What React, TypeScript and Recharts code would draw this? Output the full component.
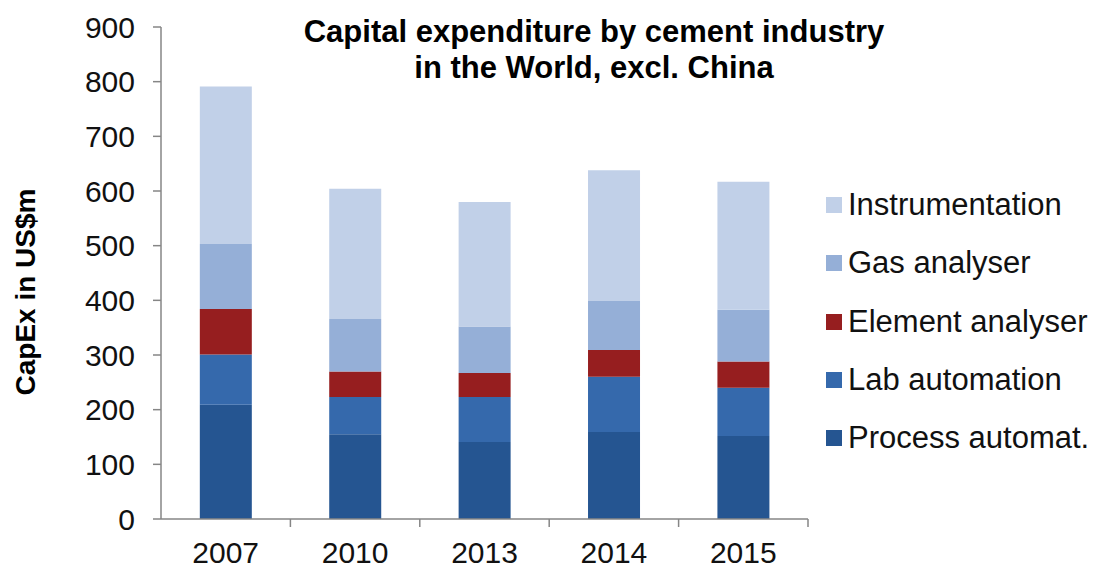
import { BarChart, Bar, XAxis, YAxis, Label } from "recharts"

const years = ["2007", "2010", "2013", "2014", "2015"]
const processAutomat = [209, 155, 141, 159, 152]
const labAutomation = [92, 68, 82, 101, 88]
const elementAnalyser = [83, 47, 44, 49, 48]
const gasAnalyser = [119, 96, 85, 90, 95]
const instrumentation = [288, 238, 228, 239, 234]
const yTicks = [0, 100, 200, 300, 400, 500, 600, 700, 800, 900]

const series = [
  { key: "process", name: "Process automat.", color: "#255591", values: processAutomat },
  { key: "lab", name: "Lab automation", color: "#3569AC", values: labAutomation },
  { key: "element", name: "Element analyser", color: "#961E1F", values: elementAnalyser },
  { key: "gas", name: "Gas analyser", color: "#95AFD7", values: gasAnalyser },
  { key: "instr", name: "Instrumentation", color: "#C1D0E8", values: instrumentation },
]

const data = years.map((year, i) => {
  const row: Record<string, string | number> = { year }
  series.forEach((s) => {
    row[s.key] = s.values[i]
  })
  return row
})

const FONT = '"Liberation Sans", Arial, sans-serif'
const AXIS = "#868686"

function YearTick(props: any) {
  const { x, y, payload } = props
  const half = payload?.offset ?? 0
  return (
    <g>
      <line x1={x + half} x2={x + half} y1={y - 23} y2={y - 15} stroke={AXIS} strokeWidth={1.5} />
      <text x={x} y={y} dy="0.71em" textAnchor="middle" fontSize={30} fontFamily={FONT} fill="#111">
        {payload.value}
      </text>
    </g>
  )
}

function SideLegend() {
  return (
    <div
      style={{
        position: "absolute",
        left: 826,
        top: 176,
        fontFamily: FONT,
        fontSize: 31,
        color: "#111",
      }}
    >
      {[...series].reverse().map((s) => (
        <div key={s.key} style={{ display: "flex", alignItems: "center", height: 58.3 }}>
          <span style={{ width: 16, height: 16, background: s.color, marginRight: 6, display: "inline-block" }} />
          <span style={{ whiteSpace: "nowrap" }}>{s.name}</span>
        </div>
      ))}
    </div>
  )
}

export default function App() {
  return (
    <div style={{ position: "relative", width: 1096, height: 568, background: "#fff" }}>
      <style>{`body{margin:0}`}</style>
      <div
        style={{
          position: "absolute",
          left: 294,
          width: 600,
          top: 14,
          textAlign: "center",
          fontFamily: FONT,
          fontWeight: "bold",
          fontSize: 31,
          lineHeight: "36px",
          color: "#000",
          zIndex: 2,
        }}
      >
        Capital expenditure by cement industry
        <br />
        in the World, excl. China
      </div>
      <BarChart
        width={1096}
        height={568}
        data={data}
        margin={{ top: 27, right: 288, bottom: 0, left: 0 }}
        barCategoryGap="30%"
      >
        <XAxis
          dataKey="year"
          height={49}
          stroke={AXIS}
          strokeWidth={1.5}
          tickLine={false}
          tickSize={8}
          tickMargin={15}
          tick={<YearTick />}
        />
        <YAxis
          width={161}
          domain={[0, 900]}
          ticks={yTicks}
          interval={0}
          stroke={AXIS}
          strokeWidth={1.5}
          tickSize={8}
          tickMargin={18}
          tick={{ fontSize: 30, fontFamily: FONT, fill: "#111" }}
        >
          <Label
            content={(p: any) => {
              const vb = p.viewBox || { x: 0, y: 0, height: 0 }
              const cx = vb.x + 25
              const cy = vb.y + vb.height / 2 + 19
              return (
                <text
                  x={cx}
                  y={cy}
                  transform={`rotate(-90 ${cx} ${cy})`}
                  textAnchor="middle"
                  dominantBaseline="central"
                  fontSize={28}
                  fontWeight="bold"
                  fontFamily={FONT}
                  fill="#000"
                >
                  CapEx in US$m
                </text>
              )
            }}
          />
        </YAxis>
        {series.map((s) => (
          <Bar key={s.key} dataKey={s.key} name={s.name} stackId="a" fill={s.color} isAnimationActive={false} />
        ))}
      </BarChart>
      <SideLegend />
    </div>
  )
}
